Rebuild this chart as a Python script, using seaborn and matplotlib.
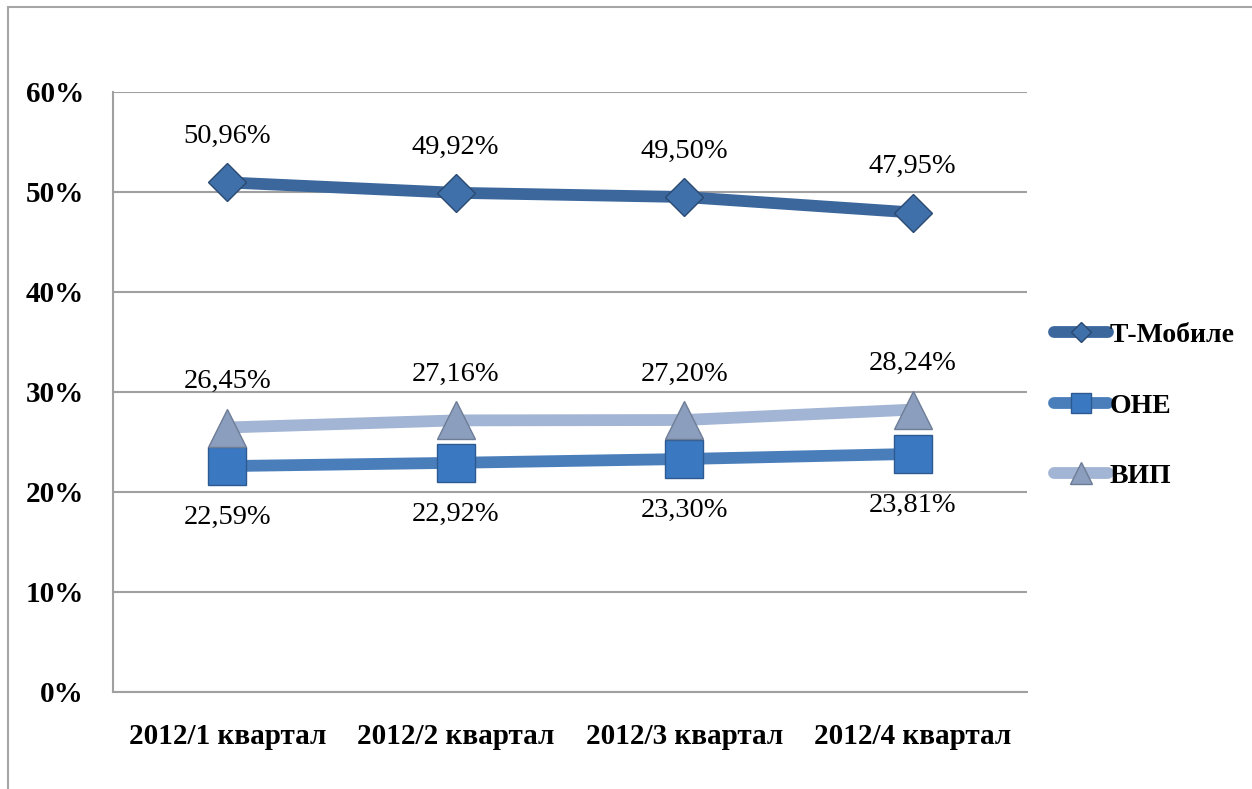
import matplotlib
matplotlib.use("Agg")
import matplotlib.pyplot as plt
import matplotlib.patches as mpatches
import pandas as pd
import seaborn as sns

# Data
quarters = ["2012/1 квартал", "2012/2 квартал", "2012/3 квартал", "2012/4 квартал"]
series_names = ["Т-Мобиле", "ОНЕ", "ВИП"]
t_mobile = [50.96, 49.92, 49.50, 47.95]
one = [22.59, 22.92, 23.30, 23.81]
vip = [26.45, 27.16, 27.20, 28.24]
y_ticks = [0, 10, 20, 30, 40, 50, 60]

values = {"Т-Мобиле": t_mobile, "ОНЕ": one, "ВИП": vip}
df = pd.concat(
    [pd.DataFrame({"quarter": quarters, "share": v, "operator": name}) for name, v in values.items()],
    ignore_index=True,
)

# styles per series
line_colors = {"Т-Мобиле": "#3B679C", "ОНЕ": "#4A7EBB", "ВИП": "#A3B5D4"}
marker_faces = {"Т-Мобиле": "#3F70AA", "ОНЕ": "#3B78C2", "ВИП": "#8C9EBE"}
marker_edges = {"Т-Мобиле": "#2A4A72", "ОНЕ": "#2C5A90", "ВИП": "#6E7D96"}
markers = {"Т-Мобиле": "D", "ОНЕ": "s", "ВИП": "^"}
marker_sizes = {"Т-Мобиле": 19, "ОНЕ": 27, "ВИП": 28}
label_offsets = {"Т-Мобиле": 33, "ОНЕ": -37, "ВИП": 33}

sns.set_style("white")
plt.rcParams["font.family"] = ["Liberation Serif", "DejaVu Serif"]
plt.rcParams["text.color"] = "black"
plt.rcParams["xtick.color"] = "black"
plt.rcParams["ytick.color"] = "black"

fig = plt.figure(figsize=(12.52, 7.89), dpi=100)
ax = fig.add_axes([113 / 1252, 1 - 692 / 789, 914 / 1252, 600 / 789])

# outer frame of the chart area
fig.patches.append(mpatches.Rectangle((8 / 1252, -0.05), 1.1, 1 - 7 / 789 + 0.05,
                                      transform=fig.transFigure, fill=False,
                                      edgecolor="#A6A6A6", linewidth=1.5, zorder=0))

for name in series_names:
    data = df[df["operator"] == name]
    sns.lineplot(data=data, x="quarter", y="share", ax=ax, sort=False,
                 color=line_colors[name], linewidth=8.5, marker=markers[name],
                 markersize=marker_sizes[name], markerfacecolor=marker_faces[name],
                 markeredgecolor=marker_edges[name], markeredgewidth=1.0,
                 label=name, zorder=3)
    for i, v in enumerate(data["share"]):
        ax.annotate(f"{v:.2f}".replace(".", ",") + "%", (i, v),
                    xytext=(0, label_offsets[name]), textcoords="offset points",
                    ha="center", va="center", fontsize=20.5, color="black", zorder=4)

ax.set_xlim(-0.5, 3.5)
ax.set_ylim(0, 60)
ax.set_yticks(y_ticks)
ax.set_yticklabels([f"{t}%" for t in y_ticks])
ax.yaxis.grid(True, color="#A0A0A0", linewidth=1.5)
ax.xaxis.grid(False)
ax.set_axisbelow(True)
ax.set_xlabel("")
ax.set_ylabel("")
for side in ["top", "right"]:
    ax.spines[side].set_visible(False)
for side in ["left", "bottom"]:
    ax.spines[side].set_color("#A0A0A0")
    ax.spines[side].set_linewidth(1.5)
ax.tick_params(axis="both", length=0, labelsize=21, labelcolor="black")
ax.tick_params(axis="x", pad=22)
ax.tick_params(axis="y", pad=21)
for lab in ax.get_xticklabels() + ax.get_yticklabels():
    lab.set_fontweight("bold")

handles, labels = ax.get_legend_handles_labels()
leg = ax.legend(handles, labels, loc="center left", bbox_to_anchor=(1.002, 0.477),
                frameon=False, handlelength=1.95, labelspacing=1.62, handletextpad=0.05,
                prop={"size": 20, "weight": "bold"}, markerscale=0.55)

fig.savefig("out.png", dpi=100)
